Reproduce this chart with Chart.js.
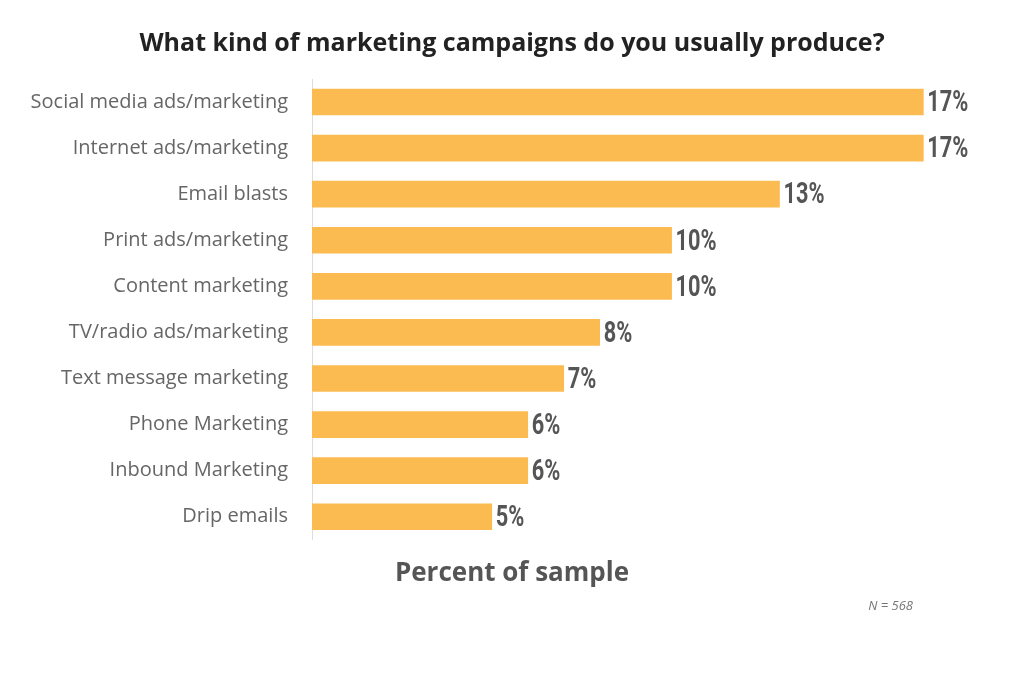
<!DOCTYPE html>
<html>
<head>
<meta charset="utf-8">
<script src="https://cdn.jsdelivr.net/npm/chart.js@4/dist/chart.umd.min.js"></script>
<style>
  html, body { margin: 0; padding: 0; background: #fff; }
  #wrap { width: 1024px; height: 673px; position: relative; }
</style>
</head>
<body>
<div id="wrap"><canvas id="chart"></canvas></div>
<script>
// Chart data
const categories = ["Social media ads/marketing", "Internet ads/marketing", "Email blasts",
    "Print ads/marketing", "Content marketing", "TV/radio ads/marketing",
    "Text message marketing", "Phone Marketing", "Inbound Marketing", "Drip emails"];
const percents = [17, 17, 13, 10, 10, 8, 7, 6, 6, 5];
const titleText = "What kind of marketing campaigns do you usually produce?";
const axisTitle = "Percent of sample";
const sampleNote = "N = 568";

// value labels + N note
const valueLabels = {
    id: "valueLabels",
    afterDatasetsDraw(chart) {
        const ctx = chart.ctx;
        const meta = chart.getDatasetMeta(0);
        ctx.save();
        ctx.fillStyle = "#555";
        ctx.textBaseline = "middle";
        ctx.textAlign = "left";
        ctx.font = "bold 29px Roboto";
        meta.data.forEach((bar, i) => {
            ctx.save();
            ctx.translate(bar.x + 4, bar.y + 2);
            ctx.scale(0.75, 1);
            ctx.fillText(percents[i] + "%", 0, 0);
            ctx.restore();
        });
        ctx.font = "italic 13px 'Open Sans'";
        ctx.fillStyle = "#777";
        ctx.textAlign = "right";
        ctx.fillText(sampleNote, 913, 606);
        ctx.restore();
    }
};

const chart = document.querySelector("#chart").getContext("2d");

new Chart(chart, {
    type: "bar",
    data: {
        labels: categories,
        datasets: [
            {
                label: "Percent",
                data: percents,
                backgroundColor: "#fcbb50",
                borderWidth: 0,
                barThickness: 26,
            }
        ]
    },
    options: {
        indexAxis: "y",
        responsive: true,
        maintainAspectRatio: false,
        animation: false,
        layout: { padding: 0 },
        plugins: {
            legend: { display: false },
            tooltip: { enabled: false },
            title: {
                display: true,
                text: titleText,
                color: "#222",
                font: { family: "'Open Sans'", size: 25, weight: "bold" },
                padding: { top: 29, bottom: 20 }
            },
            subtitle: {
                display: true,
                position: "bottom",
                text: axisTitle,
                color: "#555",
                font: { family: "'Open Sans'", size: 26, weight: "bold" },
                padding: { top: 18, bottom: 84 }
            }
        },
        scales: {
            x: {
                display: false,
                min: 0,
                max: 19.8
            },
            y: {
                afterFit: (scale) => { scale.width = 312; },
                grid: { display: false },
                border: { display: true, color: "#ddd", width: 1 },
                ticks: {
                    color: "#666",
                    padding: 16,
                    font: { family: "'Open Sans'", size: 20 }
                }
            }
        }
    },
    plugins: [valueLabels]
});
</script>
</body>
</html>
